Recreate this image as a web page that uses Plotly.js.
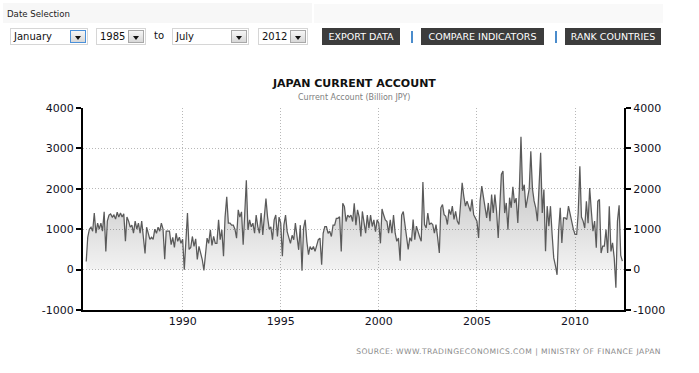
<!DOCTYPE html>
<html><head><meta charset="utf-8">
<script src="https://cdn.plot.ly/plotly-3.0.1.min.js"></script>
<style>
html,body{margin:0;padding:0;background:#fff;width:699px;height:373px;overflow:hidden;font-family:"DejaVu Sans",Verdana,sans-serif;}
#chart{position:absolute;left:0;top:0;width:699px;height:373px;}
.strip{position:absolute;background:#f7f7f7;}
.lbl{position:absolute;color:#222;white-space:nowrap;}
.sel{position:absolute;top:28px;height:17px;border:1px solid #d6d6d6;background:#fff;font-size:10px;line-height:15px;color:#111;box-sizing:border-box;padding-left:3px;white-space:nowrap;}
.arr{position:absolute;top:1px;right:1px;width:16px;height:13px;box-sizing:border-box;border:1px solid #a8a8a8;background:linear-gradient(#f6f6f6,#d8d8d8);}
.arr.focus{border-color:#4a90d9;}
.arr:after{content:"";position:absolute;left:4px;top:5px;border-left:3.5px solid transparent;border-right:3.5px solid transparent;border-top:4px solid #111;}
.btn{position:absolute;top:28px;height:17px;background:#3c3c3c;color:#fff;font-size:9.5px;line-height:17px;text-align:center;white-space:nowrap;}
.sep{position:absolute;top:31px;width:2px;height:12px;background:#4a8ccc;}
#src{position:absolute;right:38px;top:347px;font-size:7.6px;letter-spacing:0.45px;color:#8a8a8a;white-space:nowrap;}
</style>
</head>
<body>
<div id="chart"></div>
<div class="strip" style="left:3px;top:3px;width:309px;height:20px;"></div>
<div class="strip" style="left:314px;top:4px;width:349px;height:19px;background:#f9f9f9;"></div>
<div class="lbl" style="left:7px;top:9px;font-size:8.6px;">Date Selection</div>
<div class="sel" style="left:10px;width:78px;">January<div class="arr focus"></div></div>
<div class="sel" style="left:96px;width:50px;">1985<div class="arr"></div></div>
<div class="lbl" style="left:154px;top:30px;font-size:10px;color:#111;">to</div>
<div class="sel" style="left:172px;width:77px;">July<div class="arr"></div></div>
<div class="sel" style="left:258px;width:50px;">2012<div class="arr"></div></div>
<div class="btn" style="left:322px;width:78px;">EXPORT DATA</div>
<div class="sep" style="left:411px;"></div>
<div class="btn" style="left:421px;width:123px;">COMPARE INDICATORS</div>
<div class="sep" style="left:555px;"></div>
<div class="btn" style="left:565px;width:96px;">RANK COUNTRIES</div>
<div id="src">SOURCE: WWW.TRADINGECONOMICS.COM | MINISTRY OF FINANCE JAPAN</div>
<script>
// Japan current account, monthly, billion JPY (Jan 1985 - May 2012)
var startYear = 1985;
var ca1985_1994 = [
  200, 800, 1000, 1050, 950, 1400, 900, 1150, 1000, 1150, 950, 1430,
  450, 1200, 1350, 1380, 1300, 1350, 1250, 1420, 1300, 1400, 1300, 1380,
  700, 1300, 1200, 1050, 1100, 900, 1200, 1000, 1150, 900, 1200, 850,
  400, 1050, 900, 750, 800, 750, 1000, 900, 1050, 950, 1150, 1000,
  260, 950, 950, 950, 620, 800, 550, 900, 700, 800, 650, 750,
  0, 700, 1400, 500, 550, 820, 575, 760, 250, 575, 410, 250,
  -20, 450, 780, 650, 985, 600, 820, 650, 650, 1230, 740, 985,
  330, 1300, 1800, 1150, 1150, 1100, 1100, 1000, 780, 1480, 1300, 1430,
  615, 1350, 2210, 985, 1230, 1060, 1150, 900, 1350, 1060, 900, 1400,
  860, 1300, 1760, 1300, 1000, 1060, 740, 1230, 1350, 820, 1300, 1150
];
var ca1995_2004 = [
  330, 1100, 1350, 940, 800, 650, 850, 740, 1150, 800, 490, 1100,
  -30, 1025, 1230, 700, 370, 570, 490, 570, 450, 600, 740, 780,
  120, 900, 1066, 1066, 900, 950, 820, 1100, 1100, 1270, 1270, 1310,
  450, 1640, 1560, 1190, 1350, 1300, 1350, 1190, 1640, 1100, 1480, 1300,
  820, 1440, 1190, 900, 1350, 1025, 1350, 1066, 1230, 940, 1230, 1150,
  650, 1500, 1350, 1230, 1190, 900, 1230, 900, 1350, 900, 700, 780,
  220, 1350, 1435, 1150, 740, 500, 790, 700, 1240, 740, 1075, 900,
  800, 700, 2170, 1115, 1030, 1400, 1115, 1150, 1115, 900, 1115, 785,
  410, 1530, 1610, 1360, 1320, 1115, 1490, 1360, 1570, 1240, 1440, 1200,
  1115, 1600, 2150, 1820, 1570, 1690, 1530, 1440, 1740, 1360, 1280, 1200
];
var ca2005_2012 = [
  785, 1700, 2065, 1820, 1530, 1280, 1650, 1200, 1860, 1400, 1860, 1450,
  785, 1400, 2355, 2440, 1400, 1650, 990, 1780, 1530, 2050, 1650, 1770,
  1155, 1950, 3290, 1950, 2100, 1530, 1800, 2000, 2930, 2000, 1700, 1530,
  1200, 2000, 2890, 1400, 1980, 455, 1570, 1075, 1570, 870, 290, 100,
  -130, 950, 1530, 660, 1280, 1280, 1240, 1570, 1350, 1200, 1000, 870,
  870, 1400, 2560, 1300, 1200, 1030, 1690, 1150, 2020, 1450, 950, 1200,
  540, 1690, 1735, 410, 580, 580, 990, 410, 1570, 450, 660, 290,
  -450, 1200, 1590, 350, 210
];
var xTickVals = ['1990-01-01', '1995-01-01', '2000-01-01', '2005-01-01', '2010-01-01'];
var xTickLabels = ['1990', '1995', '2000', '2005', '2010'];
var yTickVals = [-1000, 0, 1000, 2000, 3000, 4000];
var yTickLabels = ['-1000', '0', '1000', '2000', '3000', '4000'];
var chartTitle = 'JAPAN CURRENT ACCOUNT';
var chartSubtitle = 'Current Account (Billion JPY)';

var values = ca1985_1994.concat(ca1995_2004, ca2005_2012);
var dates = values.map(function (v, i) {
  var d = new Date(Date.UTC(startYear + Math.floor(i / 12), (i % 12) + 1, 0));
  return d.toISOString().slice(0, 10);
});

var tickFont = {family: 'DejaVu Sans, Verdana, sans-serif', size: 11, color: '#111122'};
var gridDash = '1px,2px';

var traces = [
  {
    x: dates, y: values, type: 'scatter', mode: 'lines',
    line: {color: '#5a5a5a', width: 1.25},
    fill: 'tozeroy',
    fillgradient: {type: 'vertical', start: 0, stop: 3300,
      colorscale: [[0, 'rgba(0,0,0,0.05)'], [1, 'rgba(0,0,0,0.30)']]},
    hoverinfo: 'skip', showlegend: false
  },
  {
    x: dates, y: values, yaxis: 'y2', type: 'scatter', mode: 'lines',
    line: {color: 'rgba(0,0,0,0)', width: 0}, hoverinfo: 'skip', showlegend: false
  }
];

var axisY = {
  range: [-1000, 4000], tickmode: 'array', tickvals: yTickVals, ticktext: yTickLabels,
  showgrid: true, gridcolor: '#b8b8b8', griddash: gridDash, gridwidth: 1,
  showline: true, linecolor: '#000', linewidth: 2, ticks: 'outside', ticklen: 5, tickwidth: 2, tickcolor: '#000',
  tickfont: tickFont, zeroline: false, fixedrange: true
};
var axisY2 = Object.assign({}, axisY, {overlaying: 'y', side: 'right', showgrid: false});

var layout = {
  width: 699, height: 373,
  margin: {l: 83, r: 75, t: 108, b: 63, pad: 0},
  paper_bgcolor: 'rgba(0,0,0,0)', plot_bgcolor: 'rgba(0,0,0,0)',
  showlegend: false,
  xaxis: {
    type: 'date', range: ['1984-12-02', '2012-06-30'],
    tickmode: 'array', tickvals: xTickVals, ticktext: xTickLabels,
    showgrid: true, gridcolor: '#b8b8b8', griddash: gridDash, gridwidth: 1,
    showline: true, linecolor: '#000', linewidth: 2, ticks: '',
    tickfont: tickFont, zeroline: false, fixedrange: true
  },
  yaxis: axisY,
  yaxis2: axisY2,
  annotations: [
    {text: '<b>' + chartTitle + '</b>', xref: 'paper', yref: 'paper', x: 0.5, y: 1.121, yanchor: 'middle', xanchor: 'center',
      showarrow: false, font: {family: 'DejaVu Sans, Verdana, sans-serif', size: 11, color: '#111'}},
    {text: chartSubtitle, xref: 'paper', yref: 'paper', x: 0.5, y: 1.05, yanchor: 'middle', xanchor: 'center',
      showarrow: false, font: {family: 'DejaVu Sans, Verdana, sans-serif', size: 8, color: '#808080'}}
  ]
};

Plotly.newPlot('chart', traces, layout, {displayModeBar: false, staticPlot: true});
</script>
</body></html>
